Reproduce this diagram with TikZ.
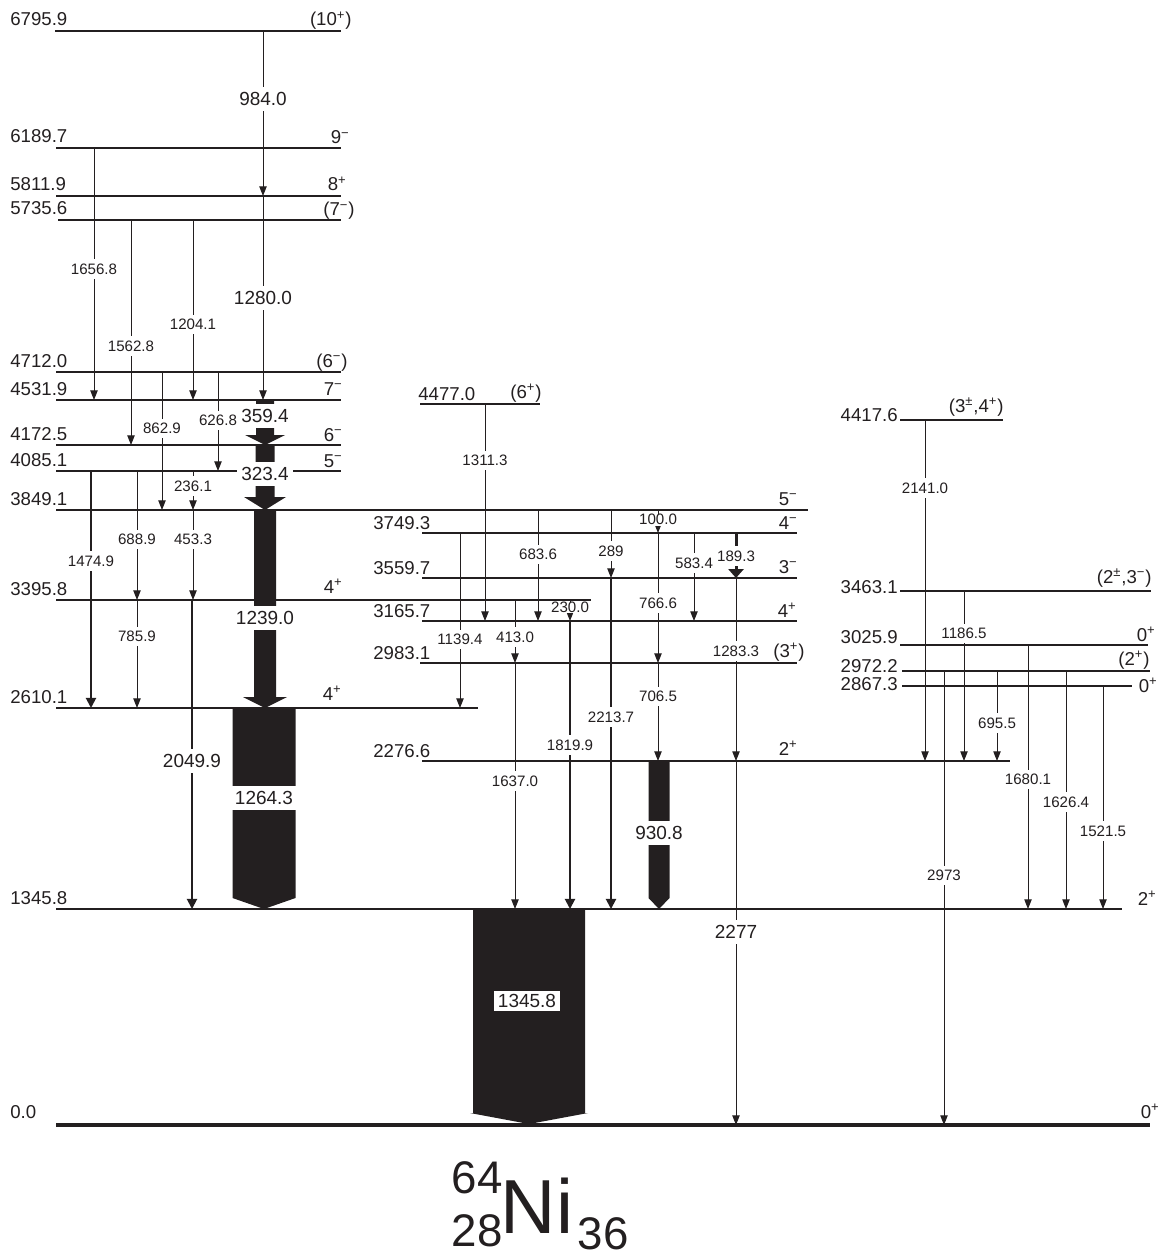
\documentclass[tikz,border=0pt]{standalone}
\usepackage{fontspec}
\setmainfont{Liberation Sans}
\usetikzlibrary{arrows.meta}
\definecolor{ink}{HTML}{231F20}
\tikzset{
  level/.style={draw=ink,line width=1pt},
  gs level/.style={draw=ink,line width=2.8pt},
  gam/.style={draw=ink,line width=0.55pt,-{Triangle[length=5.5pt,width=4.2pt]}},
  heavy gam/.style={draw=ink,line width=1.1pt,-{Triangle[length=5.8pt,width=5.8pt]}},
  band/.style={fill=ink},
  glab/.style={fill=white,text=ink,inner xsep=1pt,inner ysep=2.5pt,
    font=\fontsize{8.6}{10}\selectfont},
  tight/.style={inner ysep=0.3pt},
  blab/.style={fill=white,text=ink,inner xsep=2.5pt,inner ysep=3pt,
    font=\fontsize{10.8}{12}\selectfont},
  elab/.style={anchor=base west,inner sep=0pt,text=ink,
    font=\fontsize{10.6}{12}\selectfont},
  rlab/.style={elab,anchor=base east},
  spin/.style={anchor=base east,inner sep=0pt,text=ink,
    font=\fontsize{10.6}{12}\selectfont},
  nucl/.style={inner sep=0pt,text=ink,font=\fontsize{26}{26}\selectfont}
}
\begin{document}
\begin{tikzpicture}[x=0.02cm,y=-0.02cm]
  \useasboundingbox (0,0) rectangle (1162,1260);
  % levels, left column
  \foreach \n/\y/\a/\b/\e in {6795/31/55/341/6795.9, 6189/148/56/341/6189.7,
      5811/196/56/341/5811.9, 5735/220/58/341/5735.6, 4712/372/56/341/4712.0,
      4531/400/56/341/4531.9, 4172/445/56/341/4172.5, 4085/471/56/341/4085.1,
      3849/510/56/808/3849.1, 3395/600/56/591/3395.8, 2610/708/56/478/2610.1,
      1345/909/56/1122/1345.8} {
    \draw[level] (\a,\y) -- (\b,\y);
    \coordinate (l\n) at (0,\y);
    \node[elab] (e\n) at (10,\y-5) {\e};
  }
  % levels, middle column
  \foreach \n/\y/\a/\b/\e/\u in {4477/404/420/540/4477.0/418,
      3749/533/422/797/3749.3/373, 3559/578/422/797/3559.7/373,
      3165/621/422/797/3165.7/373, 2983/663/420/797/2983.1/373,
      2276/761/422/1010/2276.6/373} {
    \draw[level] (\a,\y) -- (\b,\y);
    \coordinate (l\n) at (0,\y);
    \node[elab] (e\n) at (\u,\y-4) {\e};
  }
  % levels, right column
  \foreach \n/\y/\a/\b/\e/\t in {4417/420/900/1003/4417.6/421,
      3463/591/900/1151/3463.1/593, 3025/645/900/1148/3025.9/643,
      2972/671/902/1150/2972.2/672, 2867/686/902/1132/2867.3/690} {
    \draw[level] (\a,\y) -- (\b,\y);
    \coordinate (l\n) at (0,\y);
    \node[rlab] (e\n) at (898,\t) {\e};
  }
  \draw[gs level] (56,1125) -- (1150,1125);
  \coordinate (l0) at (0,1125);
  \node[elab] (e0) at (10,1118) {0.0};
  % spins
  \foreach \x/\y/\s [count=\i] in {352/26/(10\textsuperscript{+}),
      350/144/9\textsuperscript{−}, 347/191/8\textsuperscript{+},
      355/216/(7\textsuperscript{−}), 348/367/(6\textsuperscript{−}),
      343/395/7\textsuperscript{−}, 343/441/6\textsuperscript{−},
      343/467/5\textsuperscript{−}, 343/593/4\textsuperscript{+},
      342/700/4\textsuperscript{+}, 542/398/(6\textsuperscript{+}),
      798/505/5\textsuperscript{−}, 798/529/4\textsuperscript{−},
      798/573/3\textsuperscript{−}, 797/617/4\textsuperscript{+},
      805/657/(3\textsuperscript{+}), 798/755/2\textsuperscript{+},
      1004/412/{(3\textsuperscript{±},4\textsuperscript{+})},
      1152/583/{(2\textsuperscript{±},3\textsuperscript{−})},
      1156/641/0\textsuperscript{+}, 1150/665/(2\textsuperscript{+}),
      1158/692/0\textsuperscript{+}, 1157/905/2\textsuperscript{+},
      1160/1118/0\textsuperscript{+}}
    \node[spin] (j\i) at (\x,\y) {\s};
  % thin transitions
  \foreach \x/\a/\b/\t/\p [count=\i] in {94/6189/4531/1656.8/0.48,
      131/5735/4172/1562.8/0.56, 193/5735/4531/1204.1/0.58,
      162/4712/3849/862.9/0.41, 218/4712/4085/626.8/0.49,
      193/4085/3849/236.1/0.38, 193/3849/3395/453.3/0.33,
      137/4085/3395/688.9/0.53, 137/3395/2610/785.9/0.34,
      485/4477/3165/1311.3/0.26, 538/3849/3165/683.6/0.40,
      611/3849/3559/289/0.60,
      658/3749/2983/766.6/0.54, 658/2983/2276/706.5/0.34,
      694/3749/3165/583.4/0.34, 736/3559/2276/1283.3/0.40,
      460/3749/2610/1139.4/0.61, 515/3395/2983/413.0/0.59,
      515/2983/1345/1637.0/0.48,
      925/4417/2276/2141.0/0.20, 964/3463/2276/1186.5/0.25,
      997/2972/2276/695.5/0.58, 944/2972/0/2973/0.45,
      1028/3025/1345/1680.1/0.51, 1066/2972/1345/1626.4/0.55,
      1103/2867/1345/1521.5/0.65}
    \draw[gam] (\x,0 |- l\a) -- node[glab,pos=\p] (g\i) {\t} (\x,0 |- l\b);
  \draw[gam] (658,0 |- l3849) -- node[glab,tight,pos=0.42] (g29) {100.0} (658,0 |- l3749);
  \draw[gam] (570,0 |- l3395) -- node[glab,tight,pos=0.36] (g30) {230.0} (570,0 |- l3165);
  \foreach \x/\a/\b/\t/\p [count=\i] in {263/6795/5811/984.0/0.41,
      263/5811/4531/1280.0/0.50, 736/2276/0/2277/0.47}
    \draw[gam] (\x,0 |- l\a) -- node[blab,pos=\p] (gb\i) {\t} (\x,0 |- l\b);
  % heavier transitions
  \foreach \x/\a/\b/\t/\p [count=\i] in {91/4085/2610/1474.9/0.38,
      570/3165/1345/1819.9/0.43, 611/3559/1345/2213.7/0.42}
    \draw[heavy gam] (\x,0 |- l\a) -- node[glab,pos=\p] (h\i) {\t} (\x,0 |- l\b);
  \draw[heavy gam] (192,0 |- l3395) -- node[blab,pos=0.52] (h4) {2049.9} (192,0 |- l1345);
  \draw[heavy gam,line width=1.7pt,-{Triangle[length=5pt,width=8.5pt]}]
    (736,0 |- l3749) -- node[glab,pos=0.51] (h5) {189.3} (736,0 |- l3559);
  % intensity bands
  \foreach \x/\w/\h/\a/\b/\c in {265/9/20/400/435/445, 265/9.5/21/445/497/510,
      265/11/22/510/697/708, 264/31.5/31.5/708/898/909,
      659/10.5/10.5/761/898/909, 529/56/59/909/1113/1124}
    \fill[band] ({\x-\w},\a) -- ({\x+\w},\a) -- ({\x+\w},\b) -- ({\x+\h},\b)
      -- (\x,\c) -- ({\x-\h},\b) -- ({\x-\w},\b) -- cycle;
  \foreach \x/\y/\t [count=\i] in {265/416/359.4, 265/474/323.4,
      265/618/1239.0, 264/798/1264.3, 659/833/930.8}
    \node[blab] (b\i) at (\x,\y) {\t};
  \node[blab,inner sep=2pt] (b6) at (527,1001) {1345.8};
  % nucleus
  \node[nucl] (amass) at (477,1178) {64};
  \node[nucl] (zatom) at (477,1231) {28};
  \node[nucl,font=\fontsize{43.6}{44}\selectfont] (elem) at (537,1206) {Ni};
  \node[nucl] (nneut) at (603,1234) {36};
\end{tikzpicture}
\end{document}
